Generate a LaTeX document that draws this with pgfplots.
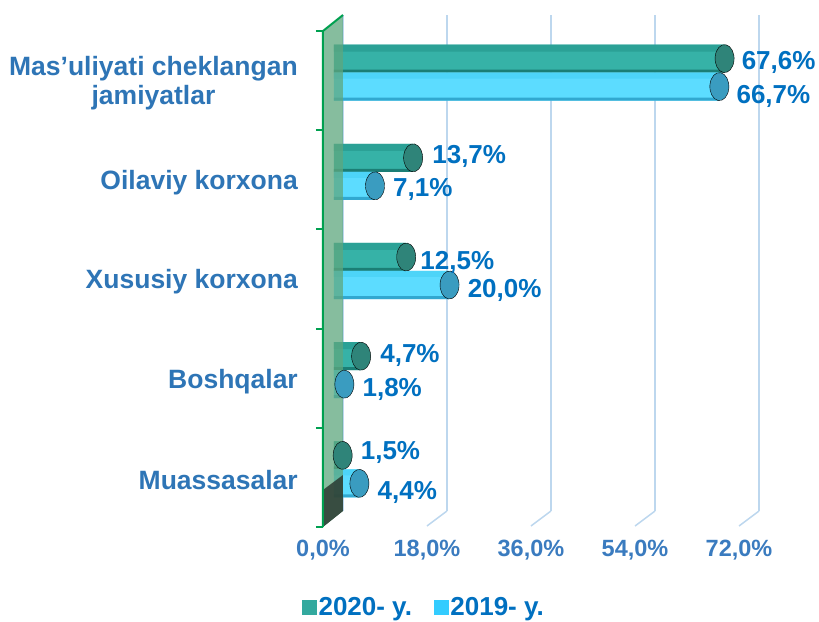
\documentclass[border=0pt]{standalone}
\usepackage{fontspec}
\setmainfont{Liberation Sans}
\usepackage{pgfplots}
\usepackage{pgfplotstable}
\pgfplotsset{compat=1.18}
\definecolor{catblue}{HTML}{2E75B6}
\definecolor{lblblue}{HTML}{0070C0}
\definecolor{tickblue}{HTML}{3A7BBF}
\definecolor{gridblue}{HTML}{BDD7EE}
\definecolor{tealT}{HTML}{2BA196}
\definecolor{tealM}{HTML}{36B2A7}
\definecolor{tealB}{HTML}{1B7E75}
\definecolor{tealCap}{HTML}{2F8479}
\definecolor{cyanT}{HTML}{4DD4F8}
\definecolor{cyanM}{HTML}{5CDCFF}
\definecolor{cyanB}{HTML}{31A8D0}
\definecolor{cyanCap}{HTML}{3A9CC0}
\definecolor{legTeal}{HTML}{33A99E}
\definecolor{legCyan}{HTML}{33CCFF}
\definecolor{wallG}{HTML}{5EA77E}
\definecolor{wallDark}{HTML}{2B3A31}
\definecolor{wallLine}{HTML}{00A050}

\pgfplotstableread{
y v dx dy
4 67.6 8 2
3 13.7 10 7
2 12.5 5 1
1 4.7 10 7
0 1.5 9 9
}\tblA
\pgfplotstableread{
y v dx dy
4 66.7 8 -32
3 7.1 9 -26
2 20.0 9 -27
1 1.8 9 -27
0 4.4 9 -31
}\tblB

\pgfkeys{/pgf/number format/.cd, fixed, fixed zerofill, precision=1, use comma, assume math mode=true}

\begin{document}
\begin{tikzpicture}
\useasboundingbox (0,0) rectangle (819pt,621pt);
\begin{axis}[
  at={(323pt,110pt)}, anchor=south west,
  scale only axis, width=436pt, height=496pt,
  xmin=-3.46, xmax=72, ymin=-0.5, ymax=4.5,
  clip=false,
  axis line style={draw=none}, tick style={draw=none},
  xtick={0,18,36,54,72},
  xmajorgrids, grid style={gridblue, line width=1.5pt},
  ytick={0,1,2,3,4},
  yticklabels={Muassasalar, Boshqalar, Xususiy korxona, Oilaviy korxona, {Mas’uliyati cheklangan\\jamiyatlar}},
  yticklabel style={anchor=east, inner sep=0pt, xshift=-25pt, yshift=-19pt, align=center, text=catblue, font=\fontsize{26.5}{29}\selectfont\bfseries},
  xticklabel={\pgfmathprintnumber{\tick}\%},
  xticklabel style={anchor=center, xshift=-20pt, yshift=-39pt, text=tickblue, font=\fontsize{23.5}{26}\selectfont\bfseries},
  legend style={at={(0.2317,-0.1935)}, anchor=center, draw=none, fill=none, legend columns=2, font=\fontsize{26}{29}\selectfont\bfseries, text=lblblue, /tikz/every even column/.append style={column sep=20pt}},
  lbl/.style={draw=none, mark=none, forget plot,
    visualization depends on={\thisrow{dx} \as \dx}, visualization depends on={\thisrow{dy} \as \dy},
    point meta=x, nodes near coords={\pgfmathprintnumber{\pgfplotspointmeta}\%},
    every node near coord/.append style={anchor=west, inner sep=0pt, xshift=\dx pt, yshift=\dy pt, text=lblblue, font=\fontsize{26}{29}\selectfont\bfseries}},
]
% 2020 cylinders
\addplot[xbar, bar width=28pt, bar shift=6pt, draw=none, fill=tealM, xshift=-9pt, forget plot] table[x=v,y=y]{\tblA};
\addplot[xbar, bar width=7pt, bar shift=16.5pt, draw=none, fill=tealT, xshift=-9pt, forget plot] table[x=v,y=y]{\tblA};
\addplot[xbar, bar width=3pt, bar shift=-6.5pt, draw=none, fill=tealB, xshift=-9pt, forget plot] table[x=v,y=y]{\tblA};
% 2019 cylinders
\addplot[xbar, bar width=28pt, bar shift=-22pt, draw=none, fill=cyanM, xshift=-9pt, forget plot] table[x=v,y=y]{\tblB};
\addplot[xbar, bar width=6pt, bar shift=-11pt, draw=none, fill=cyanT, xshift=-9pt, forget plot] table[x=v,y=y]{\tblB};
\addplot[xbar, bar width=3pt, bar shift=-34.5pt, draw=none, fill=cyanB, xshift=-9pt, forget plot] table[x=v,y=y]{\tblB};
% end caps
\addplot[only marks, mark=*, mark size=14pt, mark options={xshift=-9pt, yshift=6pt, xscale=0.68, rotate=-8, fill=tealCap, draw=none}, forget plot] table[x=v,y=y]{\tblA};
\addplot[only marks, mark=*, mark size=14pt, mark options={xshift=-9pt, yshift=-22pt, xscale=0.68, rotate=-8, fill=cyanCap, draw=none}, forget plot] table[x=v,y=y]{\tblB};
% value labels
\addplot[lbl] table[x=v,y=y]{\tblA};
\addplot[lbl] table[x=v,y=y]{\tblB};
% wall
\fill[wallG, fill opacity=0.75] ([xshift=-20pt, yshift=-16pt]axis cs:0,4.5) -- (axis cs:0,4.5) -- (axis cs:0,-0.5) -- ([xshift=-20pt,yshift=-16pt]axis cs:0,-0.5) -- cycle;
\fill[wallDark, fill opacity=0.85] ([xshift=-20pt,yshift=-16pt]axis cs:0,-0.5) -- ([xshift=-20pt, yshift=21pt]axis cs:0,-0.5) -- ([yshift=36pt]axis cs:0,-0.5) -- (axis cs:0,-0.5) -- cycle;
\draw[wallLine, line width=2pt] ([xshift=-20pt,yshift=-16pt]axis cs:0,-0.5) -- ([xshift=-20pt,yshift=-16pt]axis cs:0,4.5) -- (axis cs:0,4.5);
\pgfplotsinvokeforeach{-0.5,0.5,1.5,2.5,3.5,4.5}{\draw[wallLine, line width=2pt] ([xshift=-27pt,yshift=-16pt]axis cs:0,#1) -- ([xshift=-20pt,yshift=-16pt]axis cs:0,#1);}
\pgfplotsinvokeforeach{18,36,54,72}{\draw[gridblue, line width=1.5pt] (axis cs:#1,-0.5) -- ([xshift=-20pt,yshift=-15pt]axis cs:#1,-0.5);}
\addlegendimage{legend image code/.code={\fill[legTeal] (0pt,-7pt) rectangle (14pt,7pt);}}
\addlegendentry{2020- y.}
\addlegendimage{legend image code/.code={\fill[legCyan] (0pt,-7pt) rectangle (14pt,7pt);}}
\addlegendentry{2019- y.}
\end{axis}
\end{tikzpicture}
\end{document}
